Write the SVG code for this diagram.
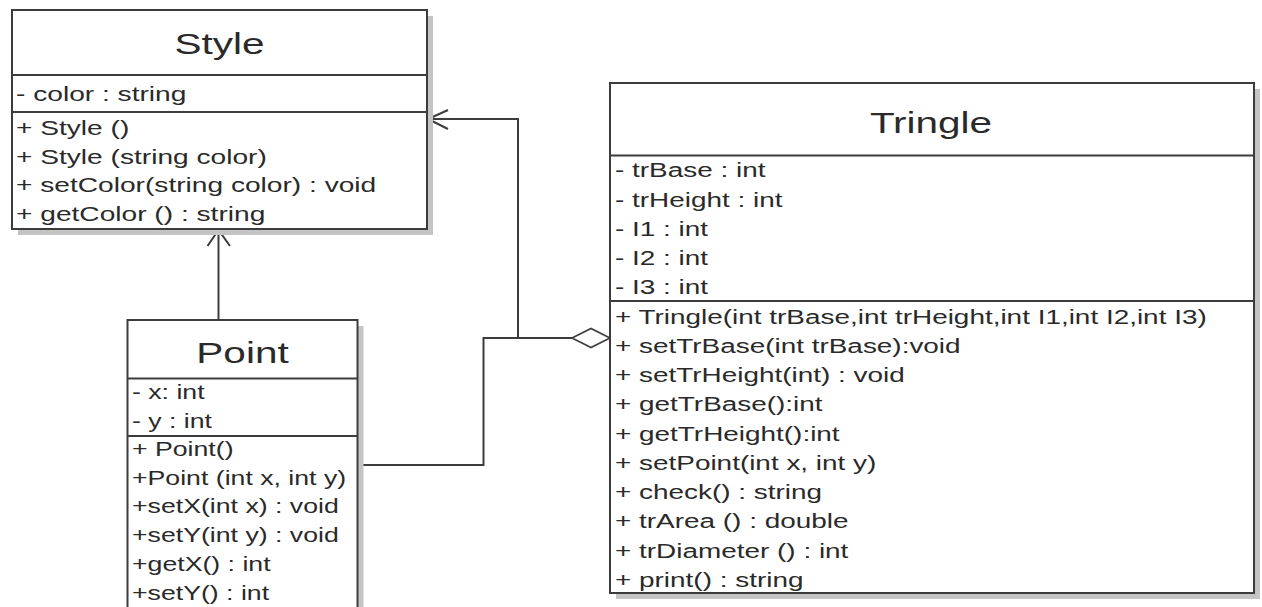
<svg xmlns="http://www.w3.org/2000/svg" width="1262" height="607" viewBox="0 0 1262 607">
<style>
.bg{fill:#ffffff}
.box{fill:#ffffff;stroke:#3c3c3c;stroke-width:2}
.shadow{fill:#c4c4c4}
.sep{stroke:#3c3c3c;stroke-width:2}
.title{font-family:"Liberation Sans",Arial,sans-serif;font-size:30px;fill:#2a2a2a;text-anchor:middle}
.mem{font-family:"Liberation Sans",Arial,sans-serif;font-size:21px;fill:#2a2a2a}
.conn{fill:none;stroke:#3c3c3c;stroke-width:2}
.diamond{fill:#ffffff;stroke:#3c3c3c;stroke-width:1.6}
</style>
<rect class="bg" x="0" y="0" width="1262" height="607"/>

<g id="connectors">
  <polyline class="conn" points="218.5,320 218.5,230"/>
  <polyline class="conn" points="207.5,246 218.5,230 230,246"/>
  <polyline class="conn" points="572,338 518,338 518,119 428,119"/>
  <polyline class="conn" points="448,110 428,119 448,129"/>
  <polyline class="conn" points="357,465 483.5,465 483.5,338 572,338"/>
  <polygon class="diamond" points="572,338 591,328.5 610,338 591,347.5"/>
</g>

<g id="Style">
  <rect class="shadow" x="18" y="16" width="415" height="219"/>
  <rect class="box" x="12" y="10" width="415" height="219"/>
  <line class="sep" x1="12" y1="75" x2="427" y2="75"/>
  <line class="sep" x1="12" y1="112" x2="427" y2="112"/>
  <text class="title" transform="translate(219.5,54) scale(1.35,1)">Style</text>
  <text class="mem" transform="translate(16,101) scale(1.34,1)">- color : string</text>
  <text class="mem" transform="translate(16,135) scale(1.34,1)">+ Style ()</text>
  <text class="mem" transform="translate(16,163.5) scale(1.34,1)">+ Style (string color)</text>
  <text class="mem" transform="translate(16,192) scale(1.34,1)">+ setColor(string color) : void</text>
  <text class="mem" transform="translate(16,220.5) scale(1.34,1)">+ getColor () : string</text>
</g>

<g id="Point">
  <rect class="shadow" x="133.5" y="326" width="230" height="300"/>
  <rect class="box" x="127.5" y="320" width="230" height="300"/>
  <line class="sep" x1="127.5" y1="378.5" x2="357.5" y2="378.5"/>
  <line class="sep" x1="127.5" y1="436" x2="357.5" y2="436"/>
  <text class="title" transform="translate(242.5,363) scale(1.35,1)">Point</text>
  <text class="mem" transform="translate(132,399) scale(1.27,1)">- x: int</text>
  <text class="mem" transform="translate(132,427.7) scale(1.27,1)">- y : int</text>
  <text class="mem" transform="translate(132,456) scale(1.27,1)">+ Point()</text>
  <text class="mem" transform="translate(132,484.7) scale(1.27,1)">+Point (int x, int y)</text>
  <text class="mem" transform="translate(132,513.4) scale(1.27,1)">+setX(int x) : void</text>
  <text class="mem" transform="translate(132,542.1) scale(1.27,1)">+setY(int y) : void</text>
  <text class="mem" transform="translate(132,570.8) scale(1.27,1)">+getX() : int</text>
  <text class="mem" transform="translate(132,599.5) scale(1.27,1)">+setY() : int</text>
</g>

<g id="Tringle">
  <rect class="shadow" x="616" y="89" width="644" height="510"/>
  <rect class="box" x="610" y="83" width="644" height="510"/>
  <line class="sep" x1="610" y1="155.5" x2="1254" y2="155.5"/>
  <line class="sep" x1="610" y1="301" x2="1254" y2="301"/>
  <text class="title" transform="translate(931,133) scale(1.35,1)">Tringle</text>
  <text class="mem" transform="translate(615,177.3) scale(1.33,1)">- trBase : int</text>
  <text class="mem" transform="translate(615,206.5) scale(1.33,1)">- trHeight : int</text>
  <text class="mem" transform="translate(615,235.8) scale(1.33,1)">- I1 : int</text>
  <text class="mem" transform="translate(615,265) scale(1.33,1)">- I2 : int</text>
  <text class="mem" transform="translate(615,294.3) scale(1.33,1)">- I3 : int</text>
  <text class="mem" transform="translate(615,323.5) scale(1.33,1)">+ Tringle(int trBase,int trHeight,int I1,int I2,int I3)</text>
  <text class="mem" transform="translate(615,352.8) scale(1.33,1)">+ setTrBase(int trBase):void</text>
  <text class="mem" transform="translate(615,382) scale(1.33,1)">+ setTrHeight(int) : void</text>
  <text class="mem" transform="translate(615,411.3) scale(1.33,1)">+ getTrBase():int</text>
  <text class="mem" transform="translate(615,440.5) scale(1.33,1)">+ getTrHeight():int</text>
  <text class="mem" transform="translate(615,469.8) scale(1.33,1)">+ setPoint(int x, int y)</text>
  <text class="mem" transform="translate(615,499) scale(1.33,1)">+ check() : string</text>
  <text class="mem" transform="translate(615,528.3) scale(1.33,1)">+ trArea () : double</text>
  <text class="mem" transform="translate(615,557.5) scale(1.33,1)">+ trDiameter () : int</text>
  <text class="mem" transform="translate(615,586.8) scale(1.33,1)">+ print() : string</text>
</g>
</svg>
